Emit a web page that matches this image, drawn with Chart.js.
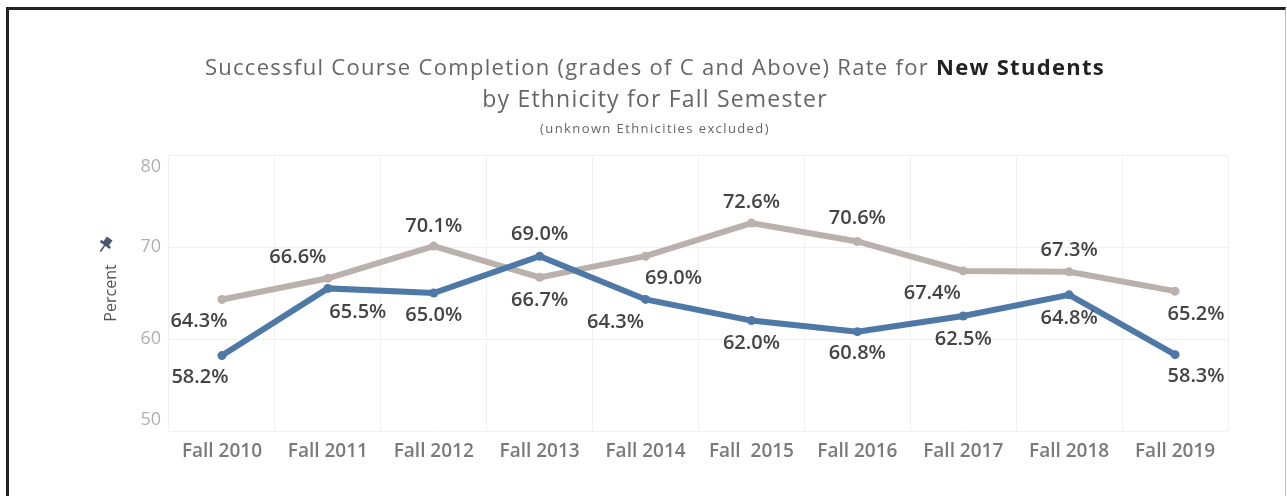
<!DOCTYPE html>
<html>
<head>
<meta charset="utf-8">
<script src="https://cdn.jsdelivr.net/npm/chart.js@4.4.1/dist/chart.umd.min.js"></script>
<style>
  body { margin: 0; background: #fff; width: 1287px; height: 496px; overflow: hidden; position: relative; font-family: "Open Sans", sans-serif; }
  #frame { position: absolute; left: 6px; top: 7px; width: 1276px; height: 500px; border-top: 3px solid #222; border-left: 3px solid #222; border-right: 1px solid #bbb; }
  .t { position: absolute; left: 0; width: 1310px; text-align: center; white-space: pre; }
  #t1 { top: 51px; font-size: 22px; letter-spacing: 1.3px; color: #666; }
  #t1 b { color: #222; }
  #t2 { top: 82px; font-size: 23px; letter-spacing: 1.2px; color: #666; }
  #t3 { top: 119px; font-size: 13px; letter-spacing: 1.4px; color: #666; }
  #wrap { position: absolute; left: 0; top: 0; }
</style>
</head>
<body>
<div id="frame"></div>
<div id="wrap"><canvas id="canva1" width="1287" height="496"></canvas></div>
<div class="t" id="t1">Successful Course Completion (grades of C and Above) Rate for <b>New Students</b></div>
<div class="t" id="t2">by Ethnicity for Fall Semester</div>
<div class="t" id="t3">(unknown Ethnicities excluded)</div>
<script>
let semestres = ["Fall 2010", "Fall 2011", "Fall 2012", "Fall 2013", "Fall 2014", "Fall  2015", "Fall 2016", "Fall 2017", "Fall 2018", "Fall 2019"];
let serieAzul = [58.2, 65.5, 65.0, 69.0, 64.3, 62.0, 60.8, 62.5, 64.8, 58.3];
let serieGris = [64.3, 66.6, 70.1, 66.7, 69.0, 72.6, 70.6, 67.4, 67.3, 65.2];
let ticksY = [50, 60, 70, 80];

// label placement (offsets from the point, px)
let etiquetasAzul = [[-22, 22], [30, 24], [0, 22], [0, -22], [-30, 23], [0, 23], [0, 22], [0, 23], [0, 23], [21, 22]];
let etiquetasGris = [[-23, 22], [-30, -21], [0, -20], [0, 23], [28, 22], [0, -21], [0, -23], [-31, 22], [0, -22], [21, 23]];

let pluginTextos = {
    id: "textos",
    afterDatasetsDraw(chart){
        let ctx = chart.ctx;
        ctx.save();
        ctx.font = "600 20px 'Open Sans'";
        ctx.fillStyle = "#444";
        ctx.textAlign = "center";
        ctx.textBaseline = "middle";
        [etiquetasAzul, etiquetasGris].forEach(function(offs, d){
            let meta = chart.getDatasetMeta(d);
            meta.data.forEach(function(pt, i){
                let v = chart.data.datasets[d].data[i];
                ctx.fillText(v.toFixed(1) + "%", pt.x + offs[i][0], pt.y + offs[i][1]);
            });
        });
        // y tick labels, end labels kept inside the axis like the original
        let y = chart.scales.y;
        ctx.font = "18px 'Open Sans'";
        ctx.fillStyle = "#b0b0b0";
        ctx.textAlign = "right";
        y.ticks.forEach(function(t){
            let py = y.getPixelForValue(t.value);
            if (t.value === y.max) py += 12;
            if (t.value === y.min) py -= 11;
            ctx.fillText(String(t.value), 161, py);
        });
        // pin icon next to the axis title
        ctx.translate(105, 245);
        ctx.rotate(Math.PI / 5);
        ctx.fillStyle = "#4a5870";
        ctx.fillRect(-3.5, -8, 7, 7);
        ctx.fillRect(-6, -2, 12, 2.5);
        ctx.fillRect(-0.8, 0, 1.6, 8);
        ctx.restore();
    }
};

window.onload = function(){
    let canva1 = document.getElementById("canva1").getContext("2d");
    let grafico = new Chart(canva1, {
        type: "line",
        data: {
            labels: semestres,
            datasets: [{
                label: "New Students A",
                data: serieAzul,
                borderColor: "#4e79a7",
                backgroundColor: "#4e79a7",
                borderWidth: 6,
                pointRadius: 4.5,
                pointBorderWidth: 0,
                pointHoverRadius: 4.5,
                tension: 0
            }, {
                label: "New Students B",
                data: serieGris,
                borderColor: "#bab0ac",
                backgroundColor: "#bab0ac",
                borderWidth: 6,
                pointRadius: 4.5,
                pointBorderWidth: 0,
                pointHoverRadius: 4.5,
                tension: 0
            }]
        },
        options: {
            responsive: false,
            animation: false,
            events: [],
            layout: { padding: { left: 100, right: 59, top: 155, bottom: 0 } },
            plugins: {
                legend: { display: false },
                tooltip: { enabled: false }
            },
            scales: {
                x: {
                    offset: true,
                    grid: { offset: true, color: "#f0f0f0", drawTicks: false },
                    border: { display: false },
                    ticks: {
                        color: "#7a7a7a",
                        font: { family: "'Open Sans'", size: 19, weight: "600" },
                        padding: 9,
                        maxRotation: 0,
                        autoSkip: false
                    },
                    afterFit(scale){ scale.height = 65; }
                },
                y: {
                    min: 50,
                    max: 80,
                    afterBuildTicks(scale){ scale.ticks = ticksY.map(function(v){ return { value: v }; }); },
                    grid: { color: "#f0f0f0", drawTicks: false },
                    border: { display: false },
                    ticks: { display: false },
                    title: {
                        display: true,
                        text: "Percent",
                        color: "#555",
                        font: { family: "'Open Sans'", size: 16 },
                        padding: { top: 2, bottom: 0 }
                    },
                    afterFit(scale){ scale.width = 69; }
                }
            }
        },
        plugins: [pluginTextos]
    });
};
</script>
</body>
</html>
